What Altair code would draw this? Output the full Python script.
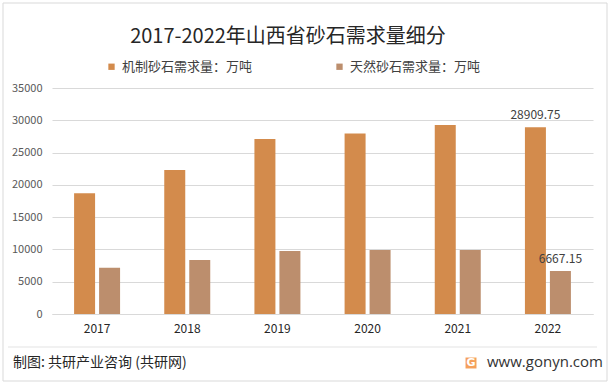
import altair as alt
import pandas as pd

years = ["2017", "2018", "2019", "2020", "2021", "2022"]
series = ["机制砂石需求量：万吨", "天然砂石需求量：万吨"]
machine = [18700, 22300, 27100, 27970, 29260, 28909.75]
natural = [7150, 8360, 9750, 9900, 9900, 6667.15]
machine_labels = ["", "", "", "", "", "28909.75"]
natural_labels = ["", "", "", "", "", "6667.15"]
y_ticks = [0, 5000, 10000, 15000, 20000, 25000, 30000, 35000]
colors = ["#D38B4C", "#BC8E6D"]

title_text = "2017-2022年山西省砂石需求量细分"
footer_left = "制图: 共研产业咨询 (共研网)"
footer_right = "www.gonyn.com"

rows = []
for i, y in enumerate(years):
    rows.append({"year": y, "series": series[0], "value": machine[i], "label": machine_labels[i]})
    rows.append({"year": y, "series": series[1], "value": natural[i], "label": natural_labels[i]})
df = pd.DataFrame(rows)

FONT = "Noto Sans CJK SC"
W, H = 541, 226

yaxis = alt.Axis(title=None, values=y_ticks, tickCount=8, ticks=False,
                 format="d", labelOverlap=False,
                 domain=False, gridColor="#D9D9D9", labelFont=FONT,
                 labelFontSize=11, labelColor="#595959", labelPadding=10)
yscale = alt.Scale(domain=[0, 35000], nice=False)

xenc = alt.X("year:N", sort=years,
             scale=alt.Scale(paddingInner=0.49, paddingOuter=0.245),
             axis=alt.Axis(title=None, labelAngle=0, ticks=False, domain=True,
                           domainColor="#D9D9D9", labelFont=FONT, labelFontSize=12,
                           labelColor="#262626", labelPadding=9))
xoff = alt.XOffset("series:N", sort=series, scale=alt.Scale(paddingInner=0.16))

bars = alt.Chart(df).mark_bar().encode(
    x=xenc, xOffset=xoff, y=alt.Y("value:Q", scale=yscale, axis=yaxis),
    color=alt.Color("series:N", sort=series,
                    scale=alt.Scale(domain=series, range=colors),
                    legend=alt.Legend(title=None, orient="none", direction="horizontal",
                                      legendX=53, legendY=-28, symbolType="square",
                                      symbolSize=40, symbolStrokeWidth=0,
                                      labelFont=FONT, labelFontSize=13,
                                      labelColor="#404040", columnPadding=80,
                                      symbolOffset=0, labelOffset=4)),
)

labels = alt.Chart(df).mark_text(baseline="bottom", dy=-5, font=FONT, fontSize=12,
                                 color="#404040").encode(
    x=alt.X("year:N", sort=years), xOffset=alt.XOffset("series:N", sort=series),
    y=alt.Y("value:Q", scale=yscale, axis=yaxis), text="label:N",
)

deco = pd.DataFrame({"k": [0]})

title = alt.Chart(deco).mark_text(text=title_text, font=FONT, fontSize=20,
                                  fontWeight="normal",
                                  color="#262626", align="center", baseline="middle").encode(
    x=alt.value(236), y=alt.value(-51))

border = alt.Chart(deco).mark_rect(fill=None, stroke="#D9D9D9", strokeWidth=1).encode(
    x=alt.value(-49), x2=alt.value(555), y=alt.value(-85), y2=alt.value(293))

sep = alt.Chart(deco).mark_rule(color="#E3E3E3", strokeWidth=1).encode(
    x=alt.value(-44), x2=alt.value(545), y=alt.value(259))

foot_l = alt.Chart(deco).mark_text(text=footer_left, font=FONT, fontSize=14,
                                   color="#262626",
                                   align="left", baseline="middle").encode(
    x=alt.value(-39), y=alt.value(275))

logo = alt.Chart(deco).mark_square(size=120, color="#F5A05A", opacity=1).encode(
    x=alt.value(419), y=alt.value(275))
logo_g = alt.Chart(deco).mark_text(text="G", font="DejaVu Sans", fontSize=11,
                                   fontWeight="bold", color="white",
                                   align="center", baseline="middle").encode(
    x=alt.value(419), y=alt.value(275))

foot_r = alt.Chart(deco).mark_text(text=footer_right, font="Open Sans", fontSize=15,
                                   color="#333333", align="left", baseline="middle").encode(
    x=alt.value(435), y=alt.value(274))

chart = alt.layer(border, sep, bars, labels, title, foot_l, logo, logo_g, foot_r).properties(
    width=W, height=H,
    autosize=alt.AutoSizeParams(type="none"),
    padding={"left": 52, "top": 88, "right": 19, "bottom": 73},
    background="white",
).configure_view(stroke=None)

chart.save("out.html", embed_options={"renderer": "svg", "actions": False})
